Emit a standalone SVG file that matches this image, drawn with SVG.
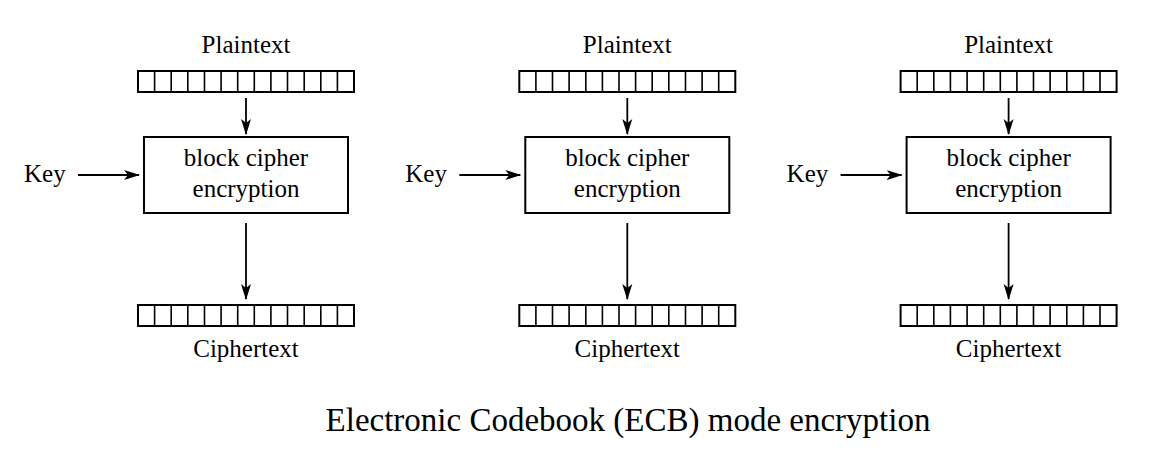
<svg xmlns="http://www.w3.org/2000/svg" xmlns:xlink="http://www.w3.org/1999/xlink" width="1160" height="468" viewBox="0 0 1160 468">
  <style>
    .lbl { font-family: "Liberation Serif", "Times New Roman", serif; font-size: 25px; fill: #000; text-anchor: middle; }
    .key { font-family: "Liberation Serif", "Times New Roman", serif; font-size: 25px; fill: #000; text-anchor: start; }
    .title { font-family: "Liberation Serif", "Times New Roman", serif; font-size: 33px; fill: #000; text-anchor: middle; }
    .box { fill: #fff; stroke: #000; stroke-width: 2; }
    .cells { fill: none; stroke: #000; stroke-width: 1.6; }
    .wire { fill: none; stroke: #000; stroke-width: 1.8; marker-end: url(#head); }
  </style>
  <defs>
    <marker id="head" viewBox="0 0 16 11" refX="15" refY="5.5" markerWidth="16" markerHeight="11" markerUnits="userSpaceOnUse" orient="auto">
      <path d="M0,0.5 L16,5.5 L0,10.5 L4,5.5 z" fill="#000"/>
    </marker>
    <!-- 13-cell register: outline plus cell dividers -->
    <g id="register">
      <rect class="box" x="138" y="0" width="216" height="21"/>
      <path class="cells" d="M154.6,0v21M171.2,0v21M187.8,0v21M204.5,0v21M221.1,0v21M237.7,0v21M254.3,0v21M270.9,0v21M287.5,0v21M304.2,0v21M320.8,0v21M337.4,0v21"/>
    </g>
    <!-- the three arrows of one encryption stage -->
    <g id="stage-wires">
      <path class="wire" d="M246,98V134"/>
      <path class="wire" d="M78,175H139"/>
      <path class="wire" d="M246,223V299"/>
    </g>
  </defs>
  <rect width="1160" height="468" fill="#fff"/>

  <!-- first block -->
  <g id="plain1"><text class="lbl" x="246" y="53">Plaintext</text><use xlink:href="#register" y="71"/></g>
  <g id="cipher1"><rect class="box" x="144" y="137" width="204" height="76"/><text class="lbl" x="246" y="166">block cipher</text><text class="lbl" x="246" y="197">encryption</text></g>
  <g id="ct1"><use xlink:href="#register" y="305"/><text class="lbl" x="246" y="357">Ciphertext</text></g>
  <g id="key1"><text class="key" x="24" y="182">Key</text></g>

  <!-- second block -->
  <g id="plain2" transform="translate(381.3,0)"><text class="lbl" x="246" y="53">Plaintext</text><use xlink:href="#register" y="71"/></g>
  <g id="cipher2" transform="translate(381.3,0)"><rect class="box" x="144" y="137" width="204" height="76"/><text class="lbl" x="246" y="166">block cipher</text><text class="lbl" x="246" y="197">encryption</text></g>
  <g id="ct2" transform="translate(381.3,0)"><use xlink:href="#register" y="305"/><text class="lbl" x="246" y="357">Ciphertext</text></g>
  <g id="key2" transform="translate(381.3,0)"><text class="key" x="24" y="182">Key</text></g>

  <!-- third block -->
  <g id="plain3" transform="translate(762.6,0)"><text class="lbl" x="246" y="53">Plaintext</text><use xlink:href="#register" y="71"/></g>
  <g id="cipher3" transform="translate(762.6,0)"><rect class="box" x="144" y="137" width="204" height="76"/><text class="lbl" x="246" y="166">block cipher</text><text class="lbl" x="246" y="197">encryption</text></g>
  <g id="ct3" transform="translate(762.6,0)"><use xlink:href="#register" y="305"/><text class="lbl" x="246" y="357">Ciphertext</text></g>
  <g id="key3" transform="translate(762.6,0)"><text class="key" x="24" y="182">Key</text></g>

  <!-- arrows: plaintext to cipher, key to cipher, cipher to ciphertext -->
  <g id="connectors">
    <use xlink:href="#stage-wires"/>
    <use xlink:href="#stage-wires" x="381.3"/>
    <use xlink:href="#stage-wires" x="762.6"/>
  </g>

  <g id="caption"><text class="title" x="628" y="431">Electronic Codebook (ECB) mode encryption</text></g>
</svg>
